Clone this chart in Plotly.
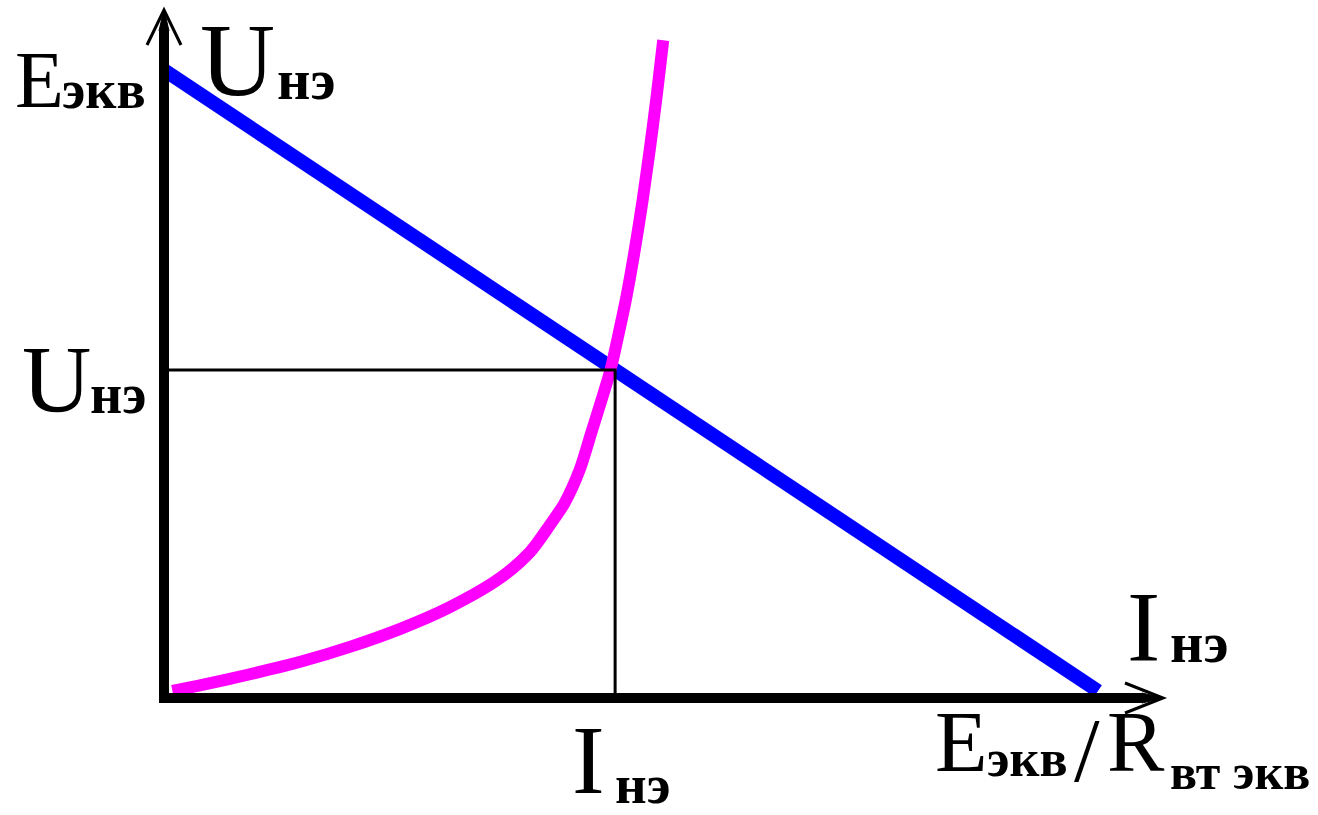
import plotly.graph_objects as go

# --- circuit quantities (arbitrary units) ---
E_ekv = 10.0                 # equivalent EMF, U-intercept of the load line
I_short = 10.0               # E_ekv / R_vt_ekv, I-intercept of the load line

# current-voltage characteristic of the nonlinear element
I_ne = [0.09, 0.385, 0.92, 1.46, 1.99, 2.53, 3.06, 3.60, 3.92, 4.13, 4.29,
        4.45, 4.575, 4.685, 4.78, 4.87, 4.945, 5.04, 5.125, 5.20, 5.27, 5.32, 5.345]
U_ne = [0.0, 0.09, 0.27, 0.47, 0.71, 1.00, 1.35, 1.82, 2.24, 2.67, 3.03,
        3.56, 4.16, 4.69, 5.17, 5.77, 6.30, 7.10, 7.91, 8.71, 9.52, 10.16, 10.48]

# operating point
I_op = 4.83
U_op = 5.17

# --- page geometry ---
W, H = 1318, 815
X0_PX, Y0_PX = 164, 691          # pixel of I = 0, U = 0
SX = (1098 - X0_PX) / I_short    # px per unit of current
SY = (Y0_PX - 70) / E_ekv        # px per unit of voltage
AXIS_X_PX = X0_PX                # vertical axis line
AXIS_Y_PX = Y0_PX + 7            # horizontal axis line


def px(x):
    return x / W


def py(y):
    return 1 - y / H


x_range = [(0 - X0_PX) / SX, (W - X0_PX) / SX]
y_range = [(Y0_PX - H) / SY, (Y0_PX - 0) / SY]
U_axis = (Y0_PX - AXIS_Y_PX) / SY

fig = go.Figure()

# load line of the linear part of the circuit
fig.add_trace(go.Scatter(x=[0, I_short], y=[E_ekv, 0], mode="lines",
                         line=dict(color="#0000ff", width=14),
                         hoverinfo="skip"))
# characteristic of the nonlinear element
fig.add_trace(go.Scatter(x=I_ne, y=U_ne, mode="lines",
                         line=dict(color="#ff00ff", width=12, shape="spline", smoothing=0.8),
                         hoverinfo="skip"))
# projections of the operating point
fig.add_trace(go.Scatter(x=[0, I_op, I_op], y=[U_op, U_op, U_axis], mode="lines",
                         line=dict(color="black", width=3),
                         hoverinfo="skip"))

shapes = []
# axes shafts
shapes.append(dict(type="line", xref="paper", yref="paper",
                   x0=px(AXIS_X_PX), y0=py(AXIS_Y_PX + 5), x1=px(AXIS_X_PX), y1=py(30),
                   line=dict(color="black", width=10)))
shapes.append(dict(type="line", xref="paper", yref="paper",
                   x0=px(AXIS_X_PX - 5), y0=py(AXIS_Y_PX), x1=px(1143), y1=py(AXIS_Y_PX),
                   line=dict(color="black", width=10)))


def path(points, closed=False):
    s = "M " + " L ".join(f"{px(x):.6f},{py(y):.6f}" for x, y in points)
    return s + (" Z" if closed else "")


# vertical arrow: tapered tip + thin barbs
shapes.append(dict(type="path", xref="paper", yref="paper",
                   path=path([(AXIS_X_PX - 5, 31), (AXIS_X_PX + 5, 31), (AXIS_X_PX, 9)], True),
                   fillcolor="black", line=dict(color="black", width=1)))
shapes.append(dict(type="path", xref="paper", yref="paper",
                   path=path([(147, 45), (AXIS_X_PX, 10), (181, 45)]),
                   line=dict(color="black", width=3)))
# horizontal arrow
shapes.append(dict(type="path", xref="paper", yref="paper",
                   path=path([(1142, AXIS_Y_PX - 5), (1142, AXIS_Y_PX + 5), (1164, AXIS_Y_PX)], True),
                   fillcolor="black", line=dict(color="black", width=1)))
shapes.append(dict(type="path", xref="paper", yref="paper",
                   path=path([(1125, 683), (1163, AXIS_Y_PX), (1125, 713)]),
                   line=dict(color="black", width=3)))

SERIF = "Liberation Serif, Times New Roman, serif"
annotations = []


def label(text, x_left, baseline, size, bold=False):
    t = f"<b>{text}</b>" if bold else text
    annotations.append(dict(
        text=t, xref="paper", yref="paper", showarrow=False,
        x=px(x_left - 2), y=py(baseline + 0.216 * size + 2),
        xanchor="left", yanchor="bottom",
        font=dict(family=SERIF, size=size, color="black")))


# top-left: E_ekv
label("E", 15, 107, 80)
label("экв", 62, 108, 54, bold=True)
# axis name: U_нэ
label("U", 200, 95, 104)
label("нэ", 277, 99, 58, bold=True)
# operating voltage
label("U", 22, 412, 96)
label("нэ", 90, 413, 56, bold=True)
# operating current
label("I", 572, 793, 98)
label("нэ", 615, 803, 55, bold=True)
# axis name: I_нэ
label("I", 1127, 660, 100)
label("нэ", 1170, 662, 58, bold=True)
# short-circuit current E_экв / R_вт экв
label("E", 935, 771, 86)
label("экв", 987, 776, 52, bold=True)
label("/", 1074, 781, 92)
label("R", 1107, 771, 86)
label("вт экв", 1170, 789, 50, bold=True)

fig.update_layout(
    width=W, height=H,
    margin=dict(l=0, r=0, t=0, b=0),
    paper_bgcolor="white", plot_bgcolor="white",
    showlegend=False,
    xaxis=dict(range=x_range, visible=False, fixedrange=True),
    yaxis=dict(range=y_range, visible=False, fixedrange=True),
    shapes=shapes,
    annotations=annotations,
)

fig.write_html("out.html")
